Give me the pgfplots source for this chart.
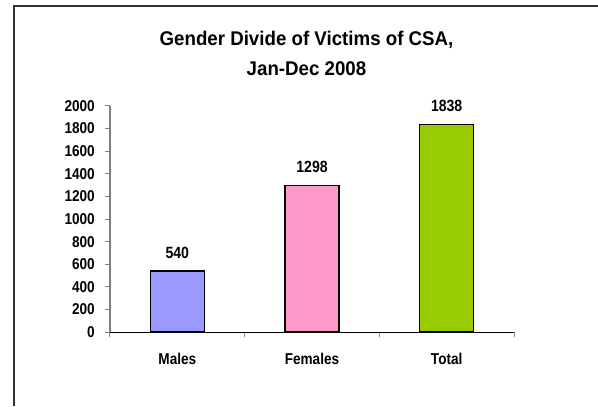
\documentclass[border=0pt]{standalone}
\usepackage{pgfplots}
\pgfplotsset{compat=1.18}
\usepackage{fontspec}
\setmainfont{Liberation Sans}
\definecolor{cmale}{HTML}{9999FF}
\definecolor{cfemale}{HTML}{FF99CC}
\definecolor{ctotal}{HTML}{99CC00}
\newcommand{\tall}[1]{\scalebox{0.97}[1.12]{#1}}
\begin{document}
\begin{tikzpicture}[x=1bp,y=1bp]
\path[use as bounding box] (0,0) rectangle (598,406);
\draw[line width=2bp, color=black!80] (13.5,0) -- (13.5,400) -- (598,400);
\node[anchor=base, font=\fontsize{18.7bp}{20bp}\selectfont\bfseries, inner sep=0pt] at (306.5,361) {\scalebox{1}[1.06]{Gender Divide of Victims of CSA,}};
\node[anchor=base, font=\fontsize{18.7bp}{20bp}\selectfont\bfseries, inner sep=0pt] at (306.5,331) {\scalebox{1}[1.06]{Jan-Dec 2008}};
\begin{axis}[
  at={(177.33bp,74bp)}, anchor=origin,
  scale only axis, width=404bp, height=226bp,
  xmin=-0.5, xmax=2.5, ymin=0, ymax=2000,
  axis x line*=bottom, axis y line*=left,
  x axis line style={black, line width=1bp},
  y axis line style={gray, line width=1.2bp},
  xtick={-0.5,0.5,1.5,2.5},
  xticklabels={\tall{Males},\tall{Females},\tall{Total}},
  x tick label as interval,
  ytick={0,200,...,2000},
  yticklabel={\tall{\pgfmathprintnumber{\tick}}},
  tick align=outside,
  major tick length=5bp,
  tick style={gray, line width=1bp},
  /pgf/number format/assume math mode=true,
  /pgf/number format/1000 sep={},
  ticklabel style={font=\fontsize{14bp}{16bp}\selectfont\bfseries, inner sep=0pt},
  xticklabel style={anchor=base, yshift=-27bp},
  yticklabel style={anchor=east, xshift=-10bp},
  ybar, bar width=54bp,
  nodes near coords={\tall{\pgfmathprintnumber{\pgfplotspointmeta}}},
  every node near coord/.append style={font=\fontsize{14.5bp}{16bp}\selectfont\bfseries, inner sep=0pt, anchor=south, yshift=12bp},
  clip=false,
]
\addplot[fill=cmale, draw=black, line width=1.2bp, bar shift=0pt] coordinates {(0,540)};
\addplot[fill=cfemale, draw=black, line width=1.2bp, bar shift=0pt] coordinates {(1,1298)};
\addplot[fill=ctotal, draw=black, line width=1.2bp, bar shift=0pt] coordinates {(2,1838)};
\end{axis}
\end{tikzpicture}
\end{document}
